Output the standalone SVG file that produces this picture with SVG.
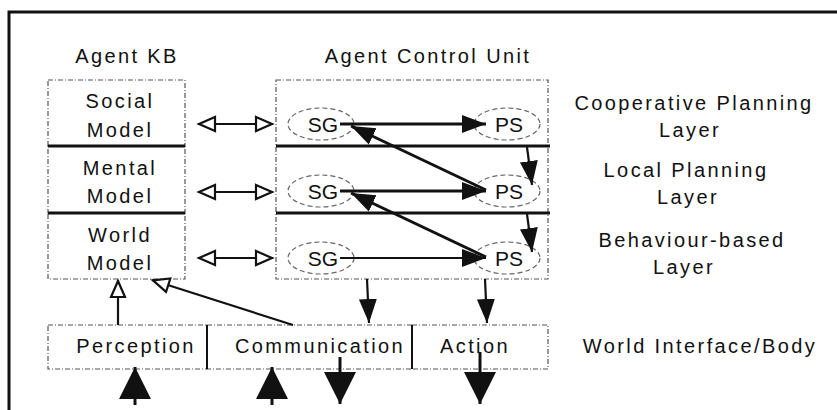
<svg xmlns="http://www.w3.org/2000/svg" width="837" height="410" viewBox="0 0 837 410">
  <style>
    text { font-family: "Liberation Sans", Arial, sans-serif; font-size: 20px; fill: #111; letter-spacing: 2.4px; text-anchor: middle; }
    .tag { letter-spacing: 0; font-size: 21px; }
    .box { fill: none; stroke: #555; stroke-width: 1.2; stroke-dasharray: 5 2 1 2; }
    .div { stroke: #111; stroke-width: 3; }
    .sep { stroke: #111; stroke-width: 2; }
    .oval { fill: none; stroke: #666; stroke-width: 1.2; stroke-dasharray: 5 3; }
    .flow { stroke: #111; stroke-width: 3; fill: none; }
    .thin { stroke: #111; stroke-width: 1.8; fill: none; }
    .link { stroke: #111; stroke-width: 2.2; fill: none; }
    .frame { stroke: #111; stroke-width: 3; fill: none; }
  </style>
  <defs>
    <marker id="solid" markerUnits="userSpaceOnUse" markerWidth="26" markerHeight="20" refX="24" refY="10" orient="auto">
      <path d="M0,1 L24,10 L0,19 z" fill="#111"/>
    </marker>
    <marker id="open" markerUnits="userSpaceOnUse" markerWidth="22" markerHeight="18" refX="19" refY="9" orient="auto-start-reverse">
      <path d="M2,2 L18,9 L2,16 z" fill="#fff" stroke="#111" stroke-width="2.2"/>
    </marker>
    <marker id="big" markerUnits="userSpaceOnUse" markerWidth="34" markerHeight="34" refX="32" refY="17" orient="auto">
      <path d="M0,1 L32,17 L0,33 z" fill="#111"/>
    </marker>
  </defs>

  <!-- outer frame -->
  <path class="frame" d="M9,410 V12 H837"/>

  <!-- headings -->
  <text x="127" y="63">Agent KB</text>
  <text x="428" y="63">Agent  Control Unit</text>

  <!-- knowledge base -->
  <g id="social-model">
    <rect class="box" x="48" y="80" width="137" height="66"/>
    <text x="120" y="108">Social</text>
    <text x="120" y="137">Model</text>
  </g>
  <g id="mental-model">
    <rect class="box" x="48" y="146" width="137" height="67"/>
    <text x="120" y="175">Mental</text>
    <text x="120" y="203">Model</text>
  </g>
  <g id="world-model">
    <rect class="box" x="48" y="213" width="137" height="66"/>
    <text x="120" y="242">World</text>
    <text x="120" y="270">Model</text>
  </g>
  <line class="div" x1="48" y1="146" x2="185" y2="146"/>
  <line class="div" x1="48" y1="213" x2="185" y2="213"/>

  <!-- control unit -->
  <g id="control-unit">
    <rect class="box" x="276" y="80" width="272" height="199"/>
    <line class="div" x1="276" y1="146" x2="550" y2="146"/>
    <line class="div" x1="276" y1="213" x2="550" y2="213"/>
  </g>
  <g id="sg1"><ellipse class="oval" cx="321" cy="124" rx="33" ry="16"/><text class="tag" x="323" y="132">SG</text></g>
  <g id="ps1"><ellipse class="oval" cx="507" cy="124" rx="33" ry="16"/><text class="tag" x="509" y="132">PS</text></g>
  <g id="sg2"><ellipse class="oval" cx="321" cy="191" rx="33" ry="16"/><text class="tag" x="323" y="199">SG</text></g>
  <g id="ps2"><ellipse class="oval" cx="507" cy="191" rx="33" ry="16"/><text class="tag" x="509" y="199">PS</text></g>
  <g id="sg3"><ellipse class="oval" cx="321" cy="258" rx="33" ry="16"/><text class="tag" x="323" y="266">SG</text></g>
  <g id="ps3"><ellipse class="oval" cx="507" cy="258" rx="33" ry="16"/><text class="tag" x="509" y="266">PS</text></g>

  <!-- layer labels -->
  <g id="layer-coop">
    <text x="694" y="110">Cooperative Planning</text>
    <text x="690" y="137">Layer</text>
  </g>
  <g id="layer-local">
    <text x="686" y="177">Local Planning</text>
    <text x="688" y="204">Layer</text>
  </g>
  <g id="layer-behaviour">
    <text x="692" y="247">Behaviour-based</text>
    <text x="684" y="274">Layer</text>
  </g>

  <!-- world interface -->
  <g id="perception">
    <rect class="box" x="48" y="325" width="159" height="44"/>
    <text x="136" y="353">Perception</text>
  </g>
  <g id="communication">
    <rect class="box" x="207" y="325" width="205" height="44"/>
    <text x="320" y="353">Communication</text>
  </g>
  <g id="action">
    <rect class="box" x="412" y="325" width="136" height="44"/>
    <text x="475" y="353">Action</text>
  </g>
  <line class="sep" x1="207" y1="325" x2="207" y2="369"/>
  <line class="sep" x1="412" y1="325" x2="412" y2="369"/>
  <g id="world-interface-label">
    <text x="700" y="353">World  Interface/Body</text>
  </g>

  <g id="connectors">
    <!-- KB to control unit -->
    <line class="link" x1="198" y1="124" x2="273" y2="124" marker-start="url(#open)" marker-end="url(#open)"/>
    <line class="link" x1="198" y1="192" x2="273" y2="192" marker-start="url(#open)" marker-end="url(#open)"/>
    <line class="link" x1="198" y1="258" x2="273" y2="258" marker-start="url(#open)" marker-end="url(#open)"/>

    <!-- inside the control unit -->
    <line class="flow" x1="340" y1="124" x2="486" y2="124" marker-end="url(#solid)"/>
    <line class="flow" x1="340" y1="191" x2="486" y2="191" marker-end="url(#solid)"/>
    <line class="thin" x1="340" y1="258" x2="486" y2="258" marker-end="url(#solid)"/>
    <line class="flow" x1="486" y1="190" x2="351" y2="126" marker-end="url(#solid)"/>
    <line class="flow" x1="486" y1="257" x2="351" y2="193" marker-end="url(#solid)"/>
    <line class="link" x1="527" y1="147" x2="532" y2="185" marker-end="url(#solid)"/>
    <line class="link" x1="527" y1="214" x2="532" y2="252" marker-end="url(#solid)"/>

    <!-- control unit to body -->
    <line class="link" x1="367" y1="279" x2="369" y2="323" marker-end="url(#solid)"/>
    <line class="link" x1="485" y1="279" x2="487" y2="323" marker-end="url(#solid)"/>

    <!-- body to knowledge base -->
    <line class="link" x1="118" y1="325" x2="118" y2="280" marker-end="url(#open)"/>
    <line class="link" x1="293" y1="325" x2="152" y2="280" marker-end="url(#open)"/>

    <!-- body to world -->
    <line class="flow" x1="135" y1="405" x2="135" y2="367" marker-end="url(#big)"/>
    <line class="flow" x1="272" y1="405" x2="272" y2="367" marker-end="url(#big)"/>
    <line class="flow" x1="340" y1="357" x2="340" y2="404" marker-end="url(#big)"/>
    <line class="flow" x1="480" y1="352" x2="480" y2="404" marker-end="url(#big)"/>
  </g>
</svg>
